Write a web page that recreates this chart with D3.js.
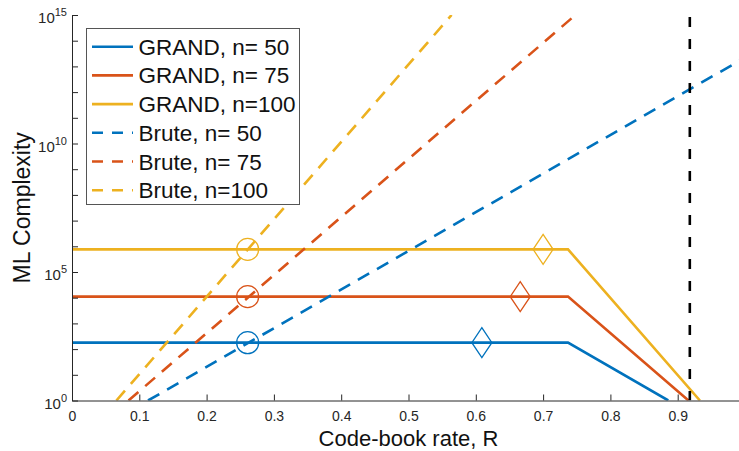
<!DOCTYPE html>
<html>
<head>
<meta charset="utf-8">
<script src="https://cdn.jsdelivr.net/npm/d3@7"></script>
<style>
  html, body { margin: 0; padding: 0; background: #fff; }
  svg { display: block; font-family: "Liberation Sans", Arial, Helvetica, sans-serif; }
</style>
</head>
<body>
<svg id="chart" width="739" height="451"></svg>
<script>
// ---------- data ----------
const seriesNames = ["GRAND, n= 50", "GRAND, n= 75", "GRAND, n=100",
                     "Brute, n= 50", "Brute, n= 75", "Brute, n=100"];
const seriesColors = ["#0072BD", "#D95319", "#EDB120"];
// GRAND: [rate R, complexity]
const grand50  = [[0, 178],   [0.737, 178],   [0.886, 1]];
const grand75  = [[0, 1.1e4], [0.737, 1.1e4], [0.916, 1]];
const grand100 = [[0, 7.6e5], [0.737, 7.6e5], [0.933, 1]];
// Brute force: [rate R, complexity]
const brute50  = [[0.113, 1], [1.0, 2.2e13]];
const brute75  = [[0.084, 1], [0.748, 1e15]];
const brute100 = [[0.066, 1], [0.564, 1e15]];
// markers
const circleRates  = [0.261, 0.261, 0.261];
const diamondRates = [0.609, 0.666, 0.700];
const grandLevels  = [178, 1.1e4, 7.6e5];
// vertical threshold
const thresholdRate = 0.918;
// ticks
const xTickValues = [0, 0.1, 0.2, 0.3, 0.4, 0.5, 0.6, 0.7, 0.8, 0.9];
const xTickLabels = ["0", "0.1", "0.2", "0.3", "0.4", "0.5", "0.6", "0.7", "0.8", "0.9"];
const yTickExponents = [0,1,2,3,4,5,6,7,8,9,10,11,12,13,14,15];
const yLabelExponents = [0, 5, 10, 15];
const xTitle = "Code-book rate, R";
const yTitle = "ML Complexity";

// ---------- layout ----------
const svg = d3.select("#chart");
const X0 = 72, X1 = 745, Y0 = 400.5, Y1 = 15;
const x = d3.scaleLinear().domain([0, 1]).range([X0, X1]);
const y = d3.scaleLog().domain([1, 1e15]).range([Y0, Y1]);
const axisColor = "#262626";

svg.append("defs").append("clipPath").attr("id", "plotclip")
  .append("rect").attr("x", X0).attr("y", Y1).attr("width", X1 - X0).attr("height", Y0 - Y1);

const plot = svg.append("g").attr("clip-path", "url(#plotclip)");
const line = d3.line().x(d => x(d[0])).y(d => y(d[1]));

// GRAND solid lines
[grand50, grand75, grand100].forEach((s, i) => {
  plot.append("path").datum(s).attr("d", line)
    .attr("fill", "none").attr("stroke", seriesColors[i]).attr("stroke-width", 2.6)
    .attr("stroke-linejoin", "miter");
});
// Brute dashed lines
[brute50, brute75, brute100].forEach((s, i) => {
  plot.append("path").datum(s).attr("d", line)
    .attr("fill", "none").attr("stroke", seriesColors[i]).attr("stroke-width", 2.6)
    .attr("stroke-dasharray", "13,9");
});
// threshold
plot.append("line")
  .attr("x1", x(thresholdRate)).attr("x2", x(thresholdRate))
  .attr("y1", y(1e15)).attr("y2", y(1))
  .attr("stroke", "#000").attr("stroke-width", 2.6).attr("stroke-dasharray", "10,12")
  .attr("stroke-dashoffset", -2);

// markers
circleRates.forEach((r, i) => {
  svg.append("circle").attr("cx", x(r)).attr("cy", y(grandLevels[i])).attr("r", 11)
    .attr("fill", "none").attr("stroke", seriesColors[i]).attr("stroke-width", 1.3);
});
diamondRates.forEach((r, i) => {
  const cx = x(r), cy = y(grandLevels[i]);
  svg.append("path")
    .attr("d", `M${cx},${cy - 15}L${cx + 10},${cy}L${cx},${cy + 15}L${cx - 10},${cy}Z`)
    .attr("fill", "none").attr("stroke", seriesColors[i]).attr("stroke-width", 1.3);
});

// ---------- axes ----------
const xAxis = d3.axisBottom(x).tickValues(xTickValues)
  .tickFormat((d, i) => xTickLabels[i]).tickSizeInner(-6).tickSizeOuter(0).tickPadding(11);
const gx = svg.append("g").attr("transform", `translate(0,${Y0})`).call(xAxis);
gx.select(".domain").attr("stroke", axisColor).attr("stroke-width", 1);
gx.selectAll(".tick line").attr("stroke", axisColor);
gx.selectAll(".tick text").attr("fill", axisColor).style("font-size", "14px")
  .style("font-family", "\"Liberation Sans\", Arial, sans-serif");

const yAxis = d3.axisLeft(y).tickValues(yTickExponents.map(e => Math.pow(10, e)))
  .tickFormat("").tickSizeInner(-6).tickSizeOuter(0);
const gy = svg.append("g").attr("transform", `translate(${X0},0)`).call(yAxis);
gy.select(".domain").attr("stroke", axisColor).attr("stroke-width", 1);
gy.selectAll(".tick line").attr("stroke", axisColor);

yLabelExponents.forEach(e => {
  const t = svg.append("text").attr("x", 67).attr("y", y(Math.pow(10, e)) + 8)
    .attr("text-anchor", "end").attr("fill", axisColor).style("font-size", "15px");
  t.append("tspan").text("10");
  t.append("tspan").attr("dy", -7).style("font-size", "11px").text(String(e));
});

// axis titles
svg.append("text").attr("x", (X0 + X1) / 2).attr("y", 446)
  .attr("text-anchor", "middle").attr("fill", "#111").style("font-size", "22px").text(xTitle);
svg.append("text").attr("transform", `translate(30,${(Y0 + Y1) / 2}) rotate(-90)`)
  .attr("text-anchor", "middle").attr("fill", "#111").style("font-size", "23px").text(yTitle);

// ---------- legend ----------
const lg = svg.append("g");
lg.append("rect").attr("x", 86.5).attr("y", 28.5).attr("width", 213).attr("height", 176)
  .attr("fill", "#fff").attr("stroke", "#555").attr("stroke-width", 1);
seriesNames.forEach((name, i) => {
  const cy = 46.7 + i * 28.7;
  lg.append("line").attr("x1", 92).attr("x2", 133).attr("y1", cy).attr("y2", cy)
    .attr("stroke", seriesColors[i % 3]).attr("stroke-width", 2.6)
    .attr("stroke-dasharray", i < 3 ? null : "11,9");
  lg.append("text").attr("x", 138.5).attr("y", cy + 8).attr("fill", "#111")
    .style("font-size", "22.5px").text(name);
});
</script>
</body>
</html>
